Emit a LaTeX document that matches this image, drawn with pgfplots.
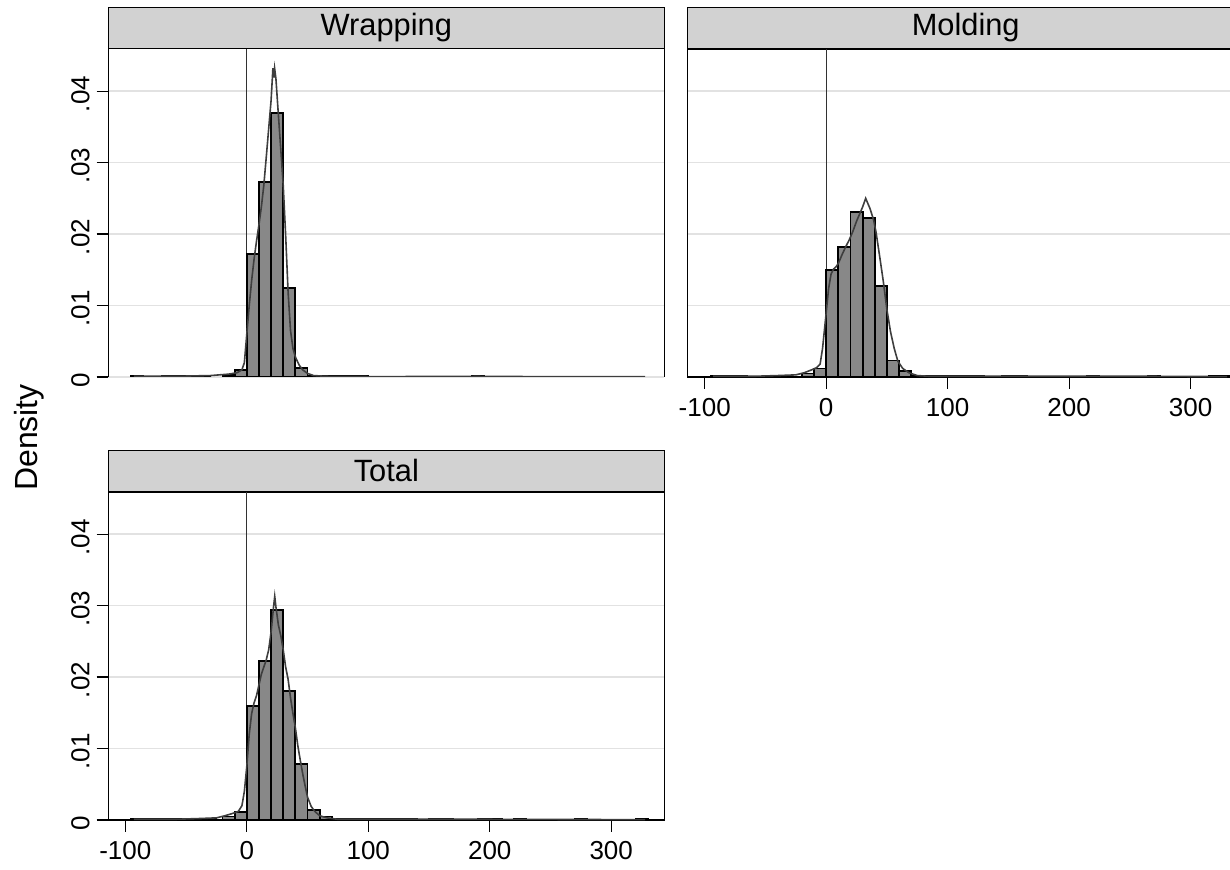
\documentclass[border=0pt]{standalone}
\usepackage{fontspec}
\setmainfont{Liberation Sans}
\usepackage{pgfplots}
\pgfplotsset{compat=1.18}
\definecolor{stripgray}{RGB}{210,210,210}
\definecolor{bargray}{RGB}{136,136,136}
\definecolor{curvegray}{RGB}{62,62,62}
\definecolor{gridgray}{RGB}{226,226,226}
\definecolor{zerogray}{RGB}{50,50,50}

\pgfplotsset{
  panel/.style={
    scale only axis, width=278pt, height=164pt,
    ymin=0, ymax=0.0459,
    ytick={0,0.01,0.02,0.03,0.04},
    yticklabels={0,.01,.02,.03,.04},
    scaled y ticks=false, scaled x ticks=false,
    ymajorgrids, major grid style={gridgray, line width=0.8pt},
    xmin=-114, xmax=343.7,
    xtick={-100,0,100,200,300},
    xticklabels={-100,0,100,200,300},
    tick align=outside, major tick length=5.8pt,
    tick style={black, line width=0.6pt},
    xtick pos=bottom, ytick pos=left,
    axis line style={black, line width=0.7pt},
    yticklabel style={rotate=90, anchor=south, xshift=-1.5pt},
    xticklabel style={yshift=-1.5pt},
    /pgf/number format/assume math mode=true,
    tick label style={font=\fontsize{13}{15}\selectfont},
    every axis title/.style={at={(0.5,1)}, anchor=south, draw=black, line width=0.7pt,
      fill=stripgray, minimum width=278pt, minimum height=20.5pt, inner sep=0pt,
      font=\fontsize{15.4}{17}\selectfont},
    clip=true,
  },
  hbar/.style={ybar, bar width=10, bar shift=0pt, fill=bargray, draw=black, line width=0.9pt},
  dens/.style={curvegray, line width=0.8pt, no marks},
  zline/.style={zerogray, line width=0.6pt, no marks},
}

\begin{document}
\begin{tikzpicture}
\path[use as bounding box] (0,0) rectangle (615pt,434.5pt);
\clip (0,0) rectangle (615pt,434.5pt);

\node[rotate=90, font=\fontsize{16}{18}\selectfont] at (14.5pt,215.75pt) {Density};

% ---------------- Wrapping ----------------
\begin{axis}[panel, at={(54.15pt,246pt)}, anchor=south west,
  hide x axis, title={Wrapping}]
\addplot[zline] coordinates {(0,0) (0,0.0459)};
\addplot[hbar] coordinates {
(-90,0.0001) (-65,0.0001) (-55,0.0001) (-45,0.0001) (-35,0.0001)
(-15,0.0003) (-5,0.0010) (5,0.0172) (15,0.0273) (25,0.0369) (35,0.0125)
(45,0.0013) (55,0.0002) (65,0.0001) (75,0.0001) (85,0.0001) (95,0.0001)
(190,0.0001)
};
\addplot[dens] coordinates {
(-93,0.0001) (-60,0.0001) (-30,0.0002) (-15,0.0004) (-8,0.0006) (-4,0.0010)
(-2,0.0020) (0,0.0060) (2,0.0100) (4,0.0135) (6,0.0165) (8,0.0190)
(10,0.0213) (12,0.0238) (14,0.0268) (16,0.0307) (18,0.0347) (20,0.0387)
(21.5,0.0432) (22.2,0.0419) (22.9,0.0432) (24,0.0417) (26,0.0367)
(28,0.0318) (30,0.0268) (32,0.0198) (34,0.0119) (36,0.0065) (38,0.0040)
(40,0.0028) (43,0.0017) (46,0.0010) (50,0.0005) (55,0.0002) (65,0.0001)
(110,0.00005) (190,0.0001) (250,0.00004) (328,0.00004)
};
\end{axis}

% ---------------- Molding ----------------
\begin{axis}[panel, at={(343.85pt,246pt)}, anchor=south west,
  yticklabels={}, ytick style={draw=none}, title={Molding}]
\addplot[zline] coordinates {(0,0) (0,0.0459)};
\addplot[hbar] coordinates {
(-90,0.0001) (-80,0.0001) (-70,0.0001) (-45,0.0001) (-35,0.0001)
(-15,0.0005) (-5,0.0012) (5,0.0150) (15,0.0182) (25,0.0231) (35,0.0223)
(45,0.0127) (55,0.0023) (65,0.0008) (75,0.0001) (85,0.0001) (95,0.0001)
(105,0.0001) (115,0.0001) (125,0.0001) (150,0.0001) (160,0.0001)
(220,0.0001) (270,0.0001) (320,0.0001) (330,0.0001)
};
\addplot[dens] coordinates {
(-93,0.0001) (-60,0.0001) (-40,0.0002) (-25,0.0003) (-18,0.0006) (-12,0.0010)
(-8,0.0013) (-5,0.0018) (-3,0.0040) (0,0.0090) (2,0.0124) (4,0.0144)
(6,0.0151) (8,0.0154) (10,0.0159) (13,0.0171) (16,0.0182) (19,0.0192)
(22,0.0204) (25,0.0218) (28,0.0230) (30,0.0238) (32.5,0.0250) (34,0.0244)
(36,0.0236) (39,0.0220) (41,0.0203) (44,0.0169) (47,0.0134) (50,0.0094)
(53,0.0063) (56,0.0040) (59,0.0022) (63,0.0012) (68,0.0006) (75,0.0002)
(85,0.0001) (130,0.0001) (155,0.0001) (220,0.0001) (270,0.0001) (330,0.00005)
};
\end{axis}

% ---------------- Total ----------------
\begin{axis}[panel, at={(54.15pt,24.5pt)}, anchor=south west, title={Total}]
\addplot[zline] coordinates {(0,0) (0,0.0459)};
\addplot[hbar] coordinates {
(-90,0.0001) (-80,0.0001) (-70,0.0001) (-60,0.0001) (-50,0.0001) (-40,0.0001)
(-30,0.0001) (-15,0.0005) (-5,0.0011) (5,0.0160) (15,0.0222) (25,0.0294)
(35,0.0181) (45,0.0078) (55,0.0014) (65,0.0005) (75,0.0002) (85,0.0001)
(95,0.0001) (105,0.0001) (115,0.0001) (125,0.0001) (135,0.0001) (155,0.0001)
(165,0.0001) (195,0.0001) (205,0.0001) (225,0.0001) (275,0.0001) (325,0.0001)
};
\addplot[dens] coordinates {
(-93,0.0001) (-60,0.0001) (-40,0.0002) (-25,0.0003) (-18,0.0006) (-12,0.0009)
(-7,0.0012) (-4,0.0020) (-2,0.0040) (0,0.0075) (2,0.0120) (4,0.0149)
(6,0.0164) (8,0.0174) (10,0.0189) (12,0.0204) (14,0.0214) (16,0.0224)
(18,0.0238) (20,0.0263) (22,0.0298) (23,0.0313) (24,0.0298) (26,0.0273)
(28,0.0258) (30,0.0238) (32,0.0214) (34,0.0197) (36,0.0171) (38,0.0149)
(40,0.0129) (42,0.0104) (44,0.0084) (46,0.0065) (48,0.0048) (50,0.0032)
(53,0.0019) (56,0.0012) (60,0.0006) (66,0.0003) (75,0.0001) (120,0.0001)
(200,0.0001) (328,0.00005)
};
\end{axis}
\end{tikzpicture}
\end{document}
